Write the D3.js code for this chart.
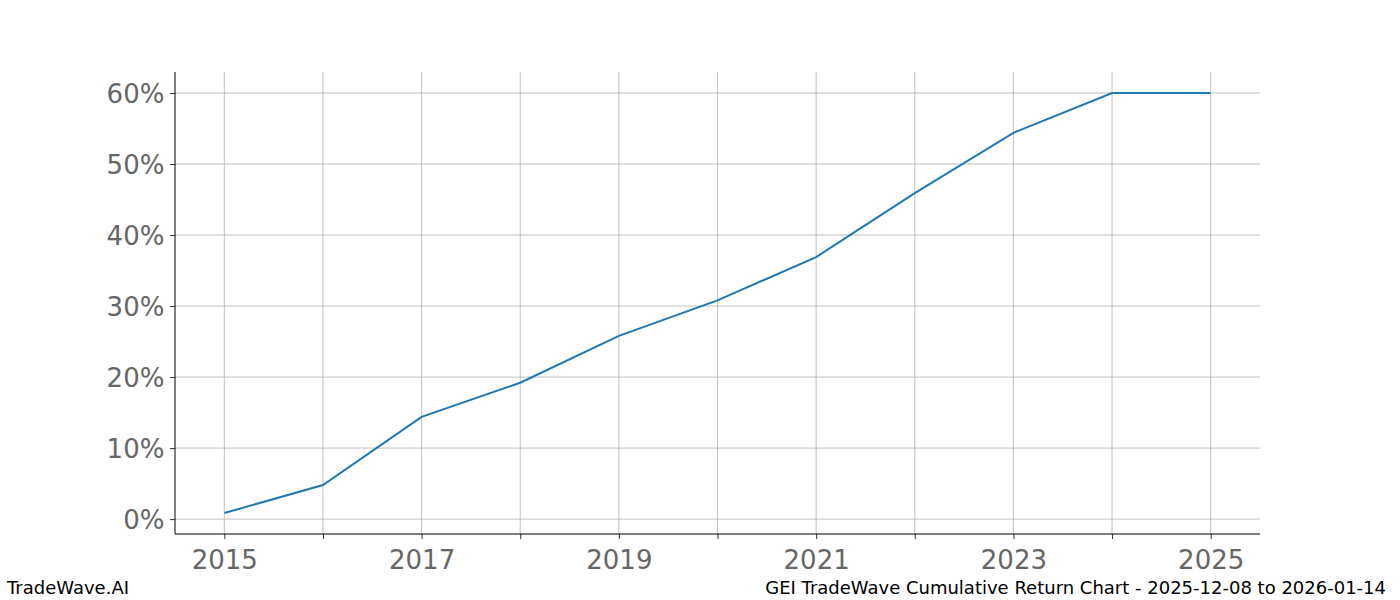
<!DOCTYPE html>
<html><head><meta charset="utf-8">
<script src="https://cdn.jsdelivr.net/npm/d3@7"></script>
<style>body{margin:0;background:#fff;font-family:"DejaVu Sans",sans-serif}</style>
</head><body>
<svg id="c" width="1400" height="600"></svg>
<script>
const years = [2015,2016,2017,2018,2019,2020,2021,2022,2023,2024,2025];
const returns = [0.85,4.8,14.4,19.2,25.8,30.8,36.9,45.9,54.4,60.0,60.0];
const yTicks = [0,10,20,30,40,50,60];
const xTickLabels = [2015,2017,2019,2021,2023,2025];

const svg = d3.select("#c");
const L=175,R=1260,T=72,B=534;
const x = d3.scaleLinear().domain([2014.5,2025.5]).range([L,R]);
const y = d3.scaleLinear().domain([-2.1,62.96]).range([B,T]);

const g = svg.append("g");
// grid
g.selectAll(".vg").data(years).join("line").attr("x1",d=>x(d)).attr("x2",d=>x(d)).attr("y1",T).attr("y2",B).attr("stroke","#b0b0b0").attr("stroke-width",0.8);
g.selectAll(".hg").data(yTicks).join("line").attr("x1",L).attr("x2",R).attr("y1",d=>y(d)).attr("y2",d=>y(d)).attr("stroke","#b0b0b0").attr("stroke-width",0.8);

const xa = svg.append("g").attr("transform",`translate(0,${B})`)
  .call(d3.axisBottom(x).tickValues(years).tickSize(5).tickFormat(d=>xTickLabels.includes(d)?d:""));
const ya = svg.append("g").attr("transform",`translate(${L},0)`)
  .call(d3.axisLeft(y).tickValues(yTicks).tickSize(5).tickFormat(d=>d+"%"));
[xa,ya].forEach(a=>{a.select(".domain").remove();a.selectAll("line").attr("stroke","#333");
  a.selectAll("text").attr("font-size",26).attr("fill","#666").attr("font-family","DejaVu Sans");});
xa.selectAll("text").attr("dy","1.05em");
ya.selectAll("text").attr("dx","-0.1em").attr("dy","0.35em");
svg.append("line").attr("x1",L).attr("x2",L).attr("y1",T).attr("y2",B).attr("stroke","#000");
svg.append("line").attr("x1",L).attr("x2",R).attr("y1",B).attr("y2",B).attr("stroke","#000");

svg.append("path").datum(years.map((d,i)=>[d,returns[i]]))
  .attr("d",d3.line().x(d=>x(d[0])).y(d=>y(d[1])))
  .attr("fill","none").attr("stroke","#1f77b4").attr("stroke-width",2);

svg.append("text").attr("x",7).attr("y",594).attr("font-size",18).attr("fill","#000").text("TradeWave.AI");
svg.append("text").attr("x",1386).attr("y",594).attr("text-anchor","end").attr("font-size",18).attr("fill","#000").text("GEI TradeWave Cumulative Return Chart - 2025-12-08 to 2026-01-14");
</script></body></html>
